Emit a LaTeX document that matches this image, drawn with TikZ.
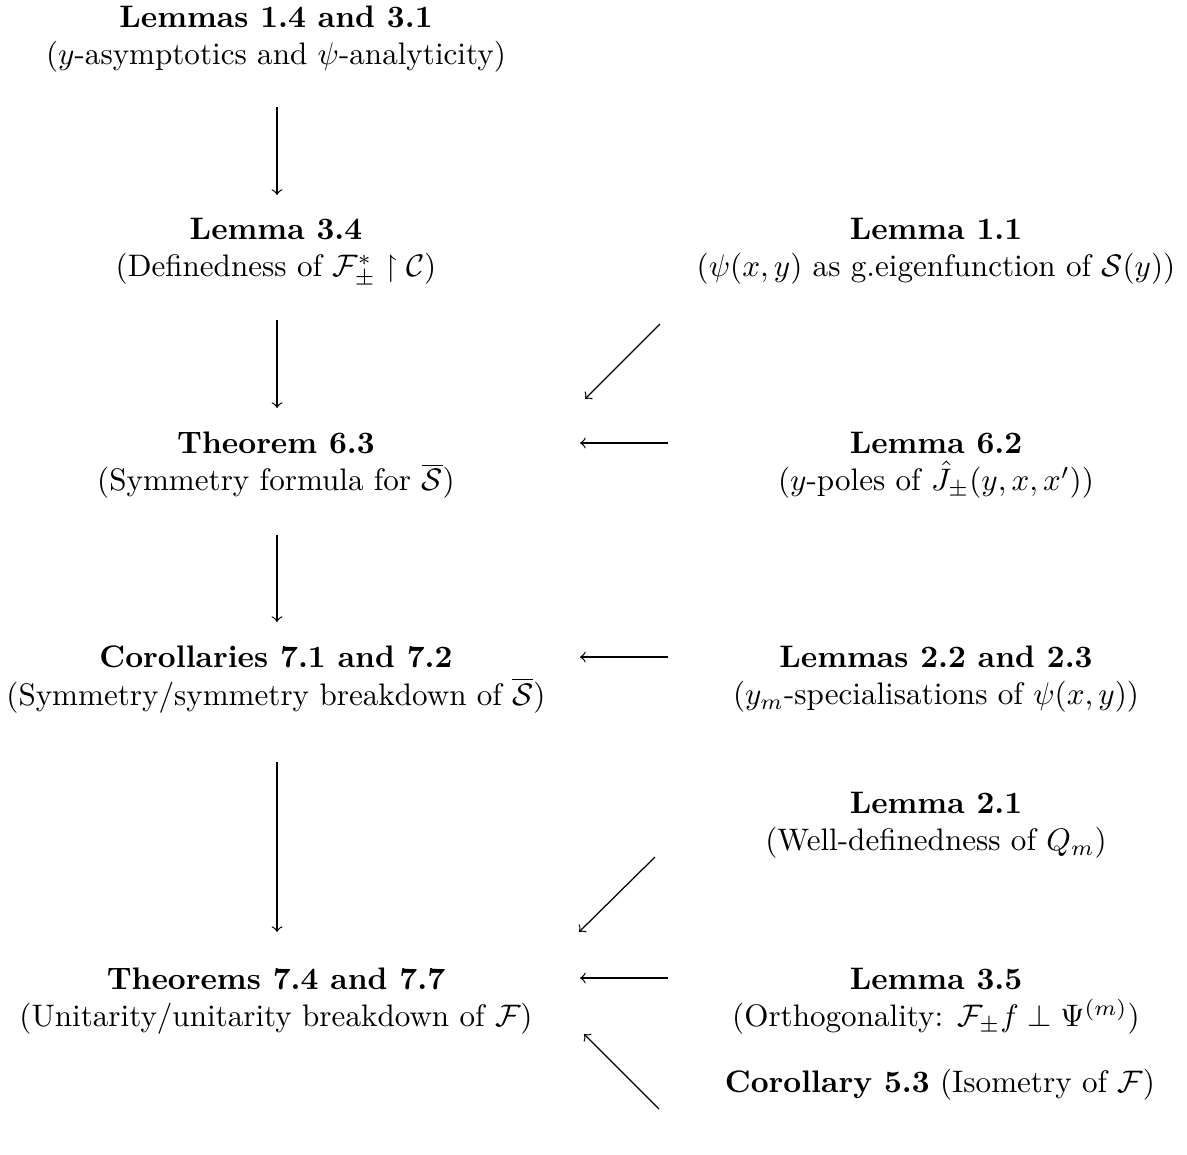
\documentclass[tikz,border=0pt]{standalone}
\usepackage{amsmath,amssymb}
\begin{document}
\begin{tikzpicture}[x=0.3215pt,y=-0.3215pt,
  lab/.style={align=center,inner sep=0pt,anchor=north},
  arr/.style={->,line width=0.4pt}]
\useasboundingbox (0,0) rectangle (1187,1155);
% left column
\node[lab] (L14) at (276,5) {\textbf{Lemmas 1.4 and 3.1}\\($y$-asymptotics and $\psi$-analyticity)};
\node[lab] (L34) at (276,217.4) {\textbf{Lemma 3.4}\\(Definedness of $\mathcal{F}^*_\pm\restriction\mathcal{C}$)};
\node[lab] (T63) at (276,431.4) {\textbf{Theorem 6.3}\\(Symmetry formula for $\overline{\mathcal{S}}$)};
\node[lab] (C7) at (276,645.4) {\textbf{Corollaries 7.1 and 7.2}\\(Symmetry/symmetry breakdown of $\overline{\mathcal{S}}$)};
\node[lab] (T74) at (276,967.4) {\textbf{Theorems 7.4 and 7.7}\\(Unitarity/unitarity breakdown of $\mathcal{F}$)};
% right column
\node[lab] (L11) at (936,217.4) {\textbf{Lemma 1.1}\\($\psi(x,y)$ as g.eigenfunction of $\mathcal{S}(y)$)};
\node[lab] (L62) at (936,431.4) {\textbf{Lemma 6.2}\\($y$-poles of $\hat{J}_\pm(y,x,x')$)};
\node[lab] (L22) at (936,645.4) {\textbf{Lemmas 2.2 and 2.3}\\($y_m$-specialisations of $\psi(x,y)$)};
\node[lab] (L21) at (936,791.7) {\textbf{Lemma 2.1}\\(Well-definedness of $Q_m$)};
\node[lab] (L35) at (936,967.4) {\textbf{Lemma 3.5}\\(Orthogonality: $\mathcal{F}_\pm f\perp\Psi^{(m)}$)};
\node[lab] (C53) at (940,1068.7) {\textbf{Corollary 5.3} (Isometry of $\mathcal{F}$)};
% vertical arrows
\draw[arr] ([shift={(1,102)}]L14.north) -- ([shift={(1,-22.4)}]L34.north);
\draw[arr] ([shift={(1,102.6)}]L34.north) -- ([shift={(1,-23.4)}]T63.north);
\draw[arr] ([shift={(1,103.6)}]T63.north) -- ([shift={(1,-23.4)}]C7.north);
\draw[arr] ([shift={(1,116.6)}]C7.north) -- ([shift={(1,-35.4)}]T74.north);
% from right column
\draw[arr] ([shift={(-276,106.6)}]L11.north) -- ([shift={(309,-32.4)}]T63.north);
\draw[arr] ([shift={(-268,11.6)}]L62.north) -- ([shift={(304,11.6)}]T63.north);
\draw[arr] ([shift={(-268,11.6)}]L22.north) -- ([shift={(304,11.6)}]C7.north);
\draw[arr] ([shift={(-281,65.3)}]L21.north) -- ([shift={(303,-35.4)}]T74.north);
\draw[arr] ([shift={(-268,10.6)}]L35.north) -- ([shift={(304,10.6)}]T74.north);
\draw[arr] ([shift={(-281,40.3)}]C53.north) -- ([shift={(308,66.6)}]T74.north);
\end{tikzpicture}
\end{document}
